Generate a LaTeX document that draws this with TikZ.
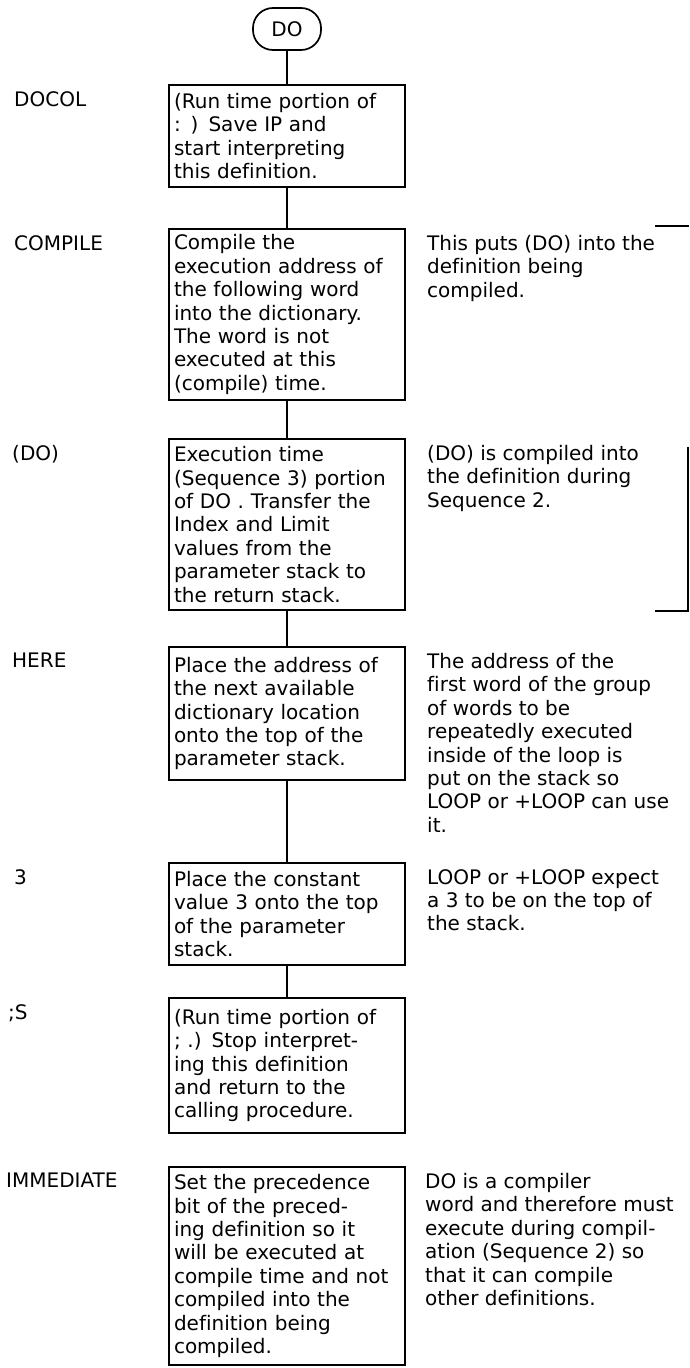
\documentclass[tikz,border=0pt]{standalone}
\usepackage{fontspec}
\setmainfont[Ligatures=NoCommon]{DejaVu Sans}
\usetikzlibrary{positioning}

\begin{document}
\begin{tikzpicture}[
    x=1pt, y=1pt,
    font=\fontsize{20}{23.4}\selectfont,
    term/.style={rectangle, draw, line width=1.7pt, outer sep=0pt, rounded corners=20pt, minimum width=68pt, minimum height=42pt, inner sep=0pt},
    stepbox/.style={rectangle, draw, line width=1.7pt, outer sep=0pt, text width=226pt, inner xsep=5pt, inner ysep=5pt, align=left},
    word/.style={anchor=north west, inner xsep=0pt, inner ysep=6pt},
    note/.style={align=left, inner xsep=0pt, inner ysep=6pt},
    link/.style={line width=1.7pt}]

    \useasboundingbox (0,0) rectangle (689,-1368);

    \node[term] (do) at (287,-29) {DO};

    \node[stepbox, below=35pt of do, minimum height=102pt] (b1) {(Run time portion of\\: ) Save IP and\\start interpreting\\this definition.};
    \node[stepbox, below=42pt of b1, minimum height=171pt] (b2) {Compile the\\execution address of\\the following word\\into the dictionary.\\The word is not\\executed at this\\(compile) time.};
    \node[stepbox, below=39pt of b2, minimum height=171pt] (b3) {Execution time\\(Sequence 3) portion\\of DO . Transfer the\\Index and Limit\\values from the\\parameter stack to\\the return stack.};
    \node[stepbox, below=37pt of b3, minimum height=133pt] (b4) {Place the address of\\the next available\\dictionary location\\onto the top of the\\parameter stack.};
    \node[stepbox, below=83pt of b4, minimum height=102pt] (b5) {Place the constant\\value 3 onto the top\\of the parameter\\stack.};
    \node[stepbox, below=33pt of b5, minimum height=135pt] (b6) {(Run time portion of\\; .) Stop interpret-\\ing this definition\\and return to the\\calling procedure.};
    \node[stepbox, below=34pt of b6, minimum height=198pt] (b7) {Set the precedence\\bit of the preced-\\ing definition so it\\will be executed at\\compile time and not\\compiled into the\\definition being\\compiled.};

    % word names on the left
    \node[word] (w1) at (14,0 |- b1.north) {DOCOL};
    \node[word] (w2) at (14,0 |- b2.north) {COMPILE};
    \node[word] (w3) at (12,0 |- b3.north) {(DO)};
    \node[word] (w4) at (12,0 |- b4.north) {HERE};
    \node[word] (w5) at (14,0 |- b5.north) {3};
    \node[word] (w6) at (8,0 |- b6.north) {;S};
    \node[word] (w7) at (6,0 |- b7.north) {IMMEDIATE};

    % comments on the right
    \node[note, right=22pt of b2.north east, anchor=north west] (n2) {This puts (DO) into the\\definition being\\compiled.};
    \node[note, right=22pt of b3.north east, anchor=north west] (n3) {(DO) is compiled into\\the definition during\\Sequence 2.};
    \node[note, right=22pt of b4.north east, anchor=north west] (n4) {The address of the\\first word of the group\\of words to be\\repeatedly executed\\inside of the loop is\\put on the stack so\\LOOP or +LOOP can use\\it.};
    \node[note, right=22pt of b5.north east, anchor=north west] (n5) {LOOP or +LOOP expect\\a 3 to be on the top of\\the stack.};
    \node[note, right=20pt of b7.north east, anchor=north west] (n7) {DO is a compiler\\word and therefore must\\execute during compil-\\ation (Sequence 2) so\\that it can compile\\other definitions.};

    \draw[link] (do) -- (b1);
    \draw[link] (b1) -- (b2);
    \draw[link] (b2) -- (b3);
    \draw[link] (b3) -- (b4);
    \draw[link] (b4) -- (b5);
    \draw[link] (b5) -- (b6);

    % bracket at the right edge
    \draw[link] (655,-226) -- (689,-226);
    \draw[link] (688,-447) -- (688,-611) -- (655,-611);
\end{tikzpicture}
\end{document}
